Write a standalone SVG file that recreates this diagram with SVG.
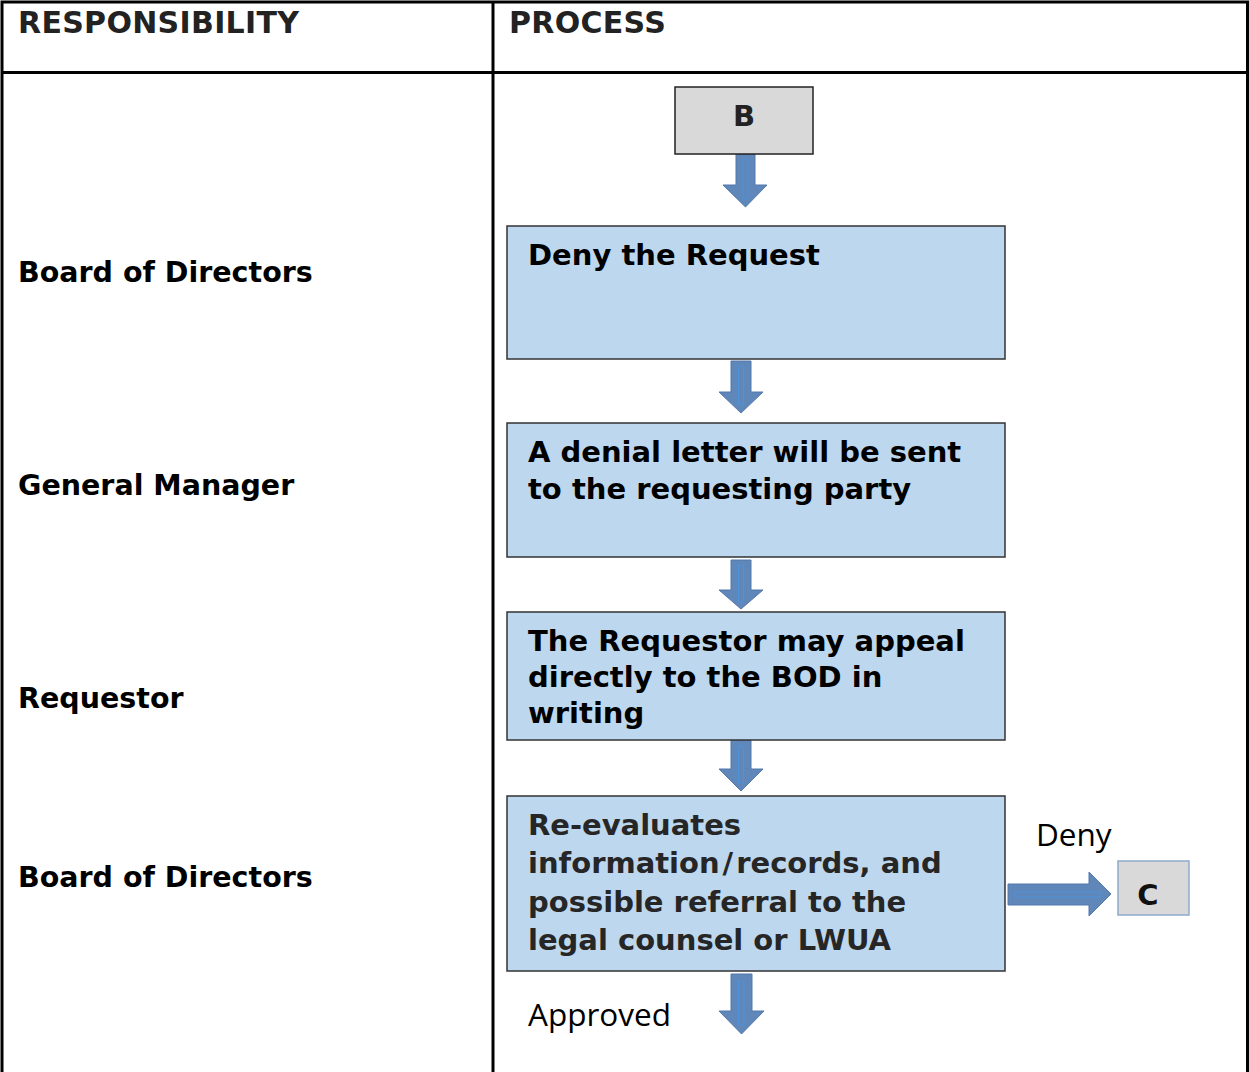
<svg xmlns="http://www.w3.org/2000/svg" width="1249" height="1072" viewBox="0 0 1249 1072">
<style>
.grid{stroke:#000;stroke-width:3;fill:none}
.hdr{font-family:"DejaVu Sans",Verdana,sans-serif;font-weight:bold;font-size:30px;letter-spacing:0.3px;fill:#222}
.lbl{font-family:"DejaVu Sans",Verdana,sans-serif;font-weight:bold;font-size:28.5px;fill:#000}
.box{fill:#bdd7ee;stroke:#333;stroke-width:1.5}
.tag{fill:#d9d9d9}
.bt{font-family:"DejaVu Sans",Verdana,sans-serif;font-weight:bold;font-size:29px;fill:#000}
.dk{fill:#262626}
.arrow{fill:#5f87b9;stroke:#5479ab;stroke-width:1}
.inner{fill:none;stroke:#4d92da;stroke-width:1}
.note{font-family:"Open Sans","Noto Sans",sans-serif;font-size:31.5px;fill:#000}
</style>
<rect width="1249" height="1072" fill="#fff"/>
<g id="table">
<path class="grid" d="M2,1072 V2 H1247.5 V1072 M2,72.5 H1247.5 M493,2 V1072"/>
<text class="hdr" x="18" y="33">RESPONSIBILITY</text>
<text class="hdr" x="509" y="33">PROCESS</text>
</g>
<g id="lanes">
<text class="lbl" x="18" y="282">Board of Directors</text>
<text class="lbl" x="18" y="495">General Manager</text>
<text class="lbl" x="18" y="708">Requestor</text>
<text class="lbl" x="18" y="887">Board of Directors</text>
</g>
<g id="connectors">
<path class="arrow" d="M736,154 H755 V185 H767 L745.5,207 L723,185 H736 Z"/>
<path class="inner" d="M743,159 H748 V199 H743 Z"/>
<path class="arrow" d="M731,361 H751 V392 H763 L741,413 L719,392 H731 Z"/>
<path class="inner" d="M738.5,366 H743.5 V405 H738.5 Z"/>
<path class="arrow" d="M731,560 H751 V590 H763 L741,609 L719,590 H731 Z"/>
<path class="inner" d="M738.5,565 H743.5 V602 H738.5 Z"/>
<path class="arrow" d="M731,740 H751 V769 H763 L741,791 L719,769 H731 Z"/>
<path class="inner" d="M738.5,746 H743.5 V783 H738.5 Z"/>
<path class="arrow" d="M731,974 H752 V1011 H764 L741.5,1034 L719,1011 H731 Z"/>
<path class="inner" d="M738.5,981 H744 V1025 H738.5 Z"/>
<path class="arrow" d="M1008,884 H1089 V872 L1111,894 L1089,916 V905 H1008 Z"/>
<path class="inner" d="M1015,892 H1100 V897 H1015 Z"/>
</g>
<g id="nodeB">
<rect class="tag" x="675" y="87" width="138" height="67" stroke="#222" stroke-width="1.5"/>
<text class="bt" x="744" y="126" text-anchor="middle" style="fill:#222">B</text>
</g>
<g id="deny">
<rect class="box" x="507" y="226" width="498" height="133"/>
<text class="bt" x="528" y="265">Deny the Request</text>
</g>
<g id="letter">
<rect class="box" x="507" y="423" width="498" height="134"/>
<text class="bt" x="528" y="462">A denial letter will be sent</text>
<text class="bt" x="528" y="499">to the requesting party</text>
</g>
<g id="appeal">
<rect class="box" x="507" y="612" width="498" height="128"/>
<text class="bt" x="528" y="651">The Requestor may appeal</text>
<text class="bt" x="528" y="687">directly to the BOD in</text>
<text class="bt" x="528" y="723">writing</text>
</g>
<g id="reevaluate">
<rect class="box" x="507" y="796" width="498" height="175"/>
<text class="bt dk" x="528" y="835">Re-evaluates</text>
<text class="bt dk" x="528" y="873">information<tspan dx="3">/</tspan><tspan dx="3">records, and</tspan></text>
<text class="bt dk" x="528" y="912">possible referral to the</text>
<text class="bt dk" x="528" y="950">legal counsel or LWUA</text>
</g>
<g id="nodeC">
<rect class="tag" x="1118" y="861" width="71" height="54" stroke="#8eaacc" stroke-width="1.5"/>
<text class="bt" x="1148" y="905" text-anchor="middle" style="fill:#111">C</text>
</g>
<g id="labels">
<text class="note" x="1036" y="846">Deny</text>
<text class="note" x="528" y="1026">Approved</text>
</g>
</svg>
